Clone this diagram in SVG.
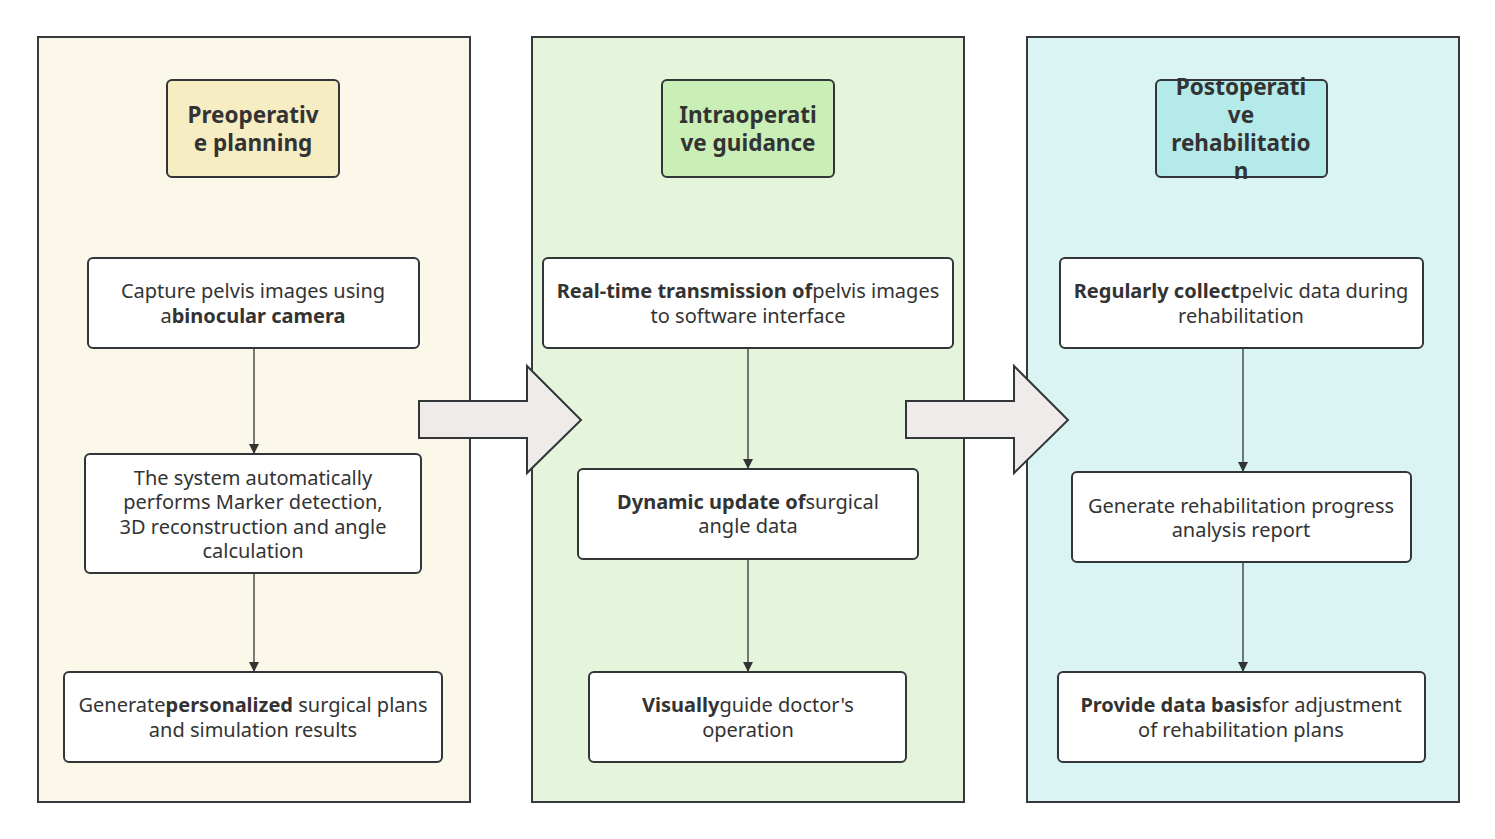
<svg xmlns="http://www.w3.org/2000/svg" width="1495" height="839" viewBox="0 0 1495 839">
<style>
.panel{stroke:#363a3d;stroke-width:2}
.title{stroke:#323639;stroke-width:2}
.node{fill:#ffffff;stroke:#323639;stroke-width:2}
.t{font-family:"Noto Sans","Open Sans",sans-serif;font-size:20px;fill:#333333;text-anchor:middle}
.h{font-family:"Noto Sans","Open Sans",sans-serif;font-size:22.5px;font-weight:bold;fill:#333333;text-anchor:middle}
.b{font-weight:bold}
.conn{stroke:#333333;stroke-width:1.3;fill:none}
.big{fill:#efebeb;stroke:#323639;stroke-width:2;stroke-linejoin:miter}
</style>
<defs>
<marker id="ah" markerWidth="10" markerHeight="14" refX="9" refY="5" orient="auto" markerUnits="userSpaceOnUse">
<path d="M0,0 L10,5 L0,10 Z" fill="#333333"/>
</marker>
</defs>
<rect width="1495" height="839" fill="#ffffff"/>
<g id="panel-pre">
<rect class="panel" x="38" y="37" width="432" height="765" fill="#fbf8e9"/>
</g>
<g id="panel-intra">
<rect class="panel" x="532" y="37" width="432" height="765" fill="#e4f5dc"/>
</g>
<g id="panel-post">
<rect class="panel" x="1027" y="37" width="432" height="765" fill="#daf4f4"/>
</g>
<g id="title-pre">
<rect class="title" x="167" y="80" width="172" height="97" rx="5" fill="#f7edc2"/>
<text class="h" x="253" y="123">Preoperativ</text>
<text class="h" x="253" y="151">e planning</text>
</g>
<g id="title-intra">
<rect class="title" x="662" y="80" width="172" height="97" rx="5" fill="#c9eeb6"/>
<text class="h" x="748" y="123">Intraoperati</text>
<text class="h" x="748" y="151">ve guidance</text>
</g>
<g id="title-post">
<rect class="title" x="1156" y="80" width="171" height="97" rx="5" fill="#b5eaea"/>
<text class="h" x="1241" y="95">Postoperati</text>
<text class="h" x="1241" y="123">ve</text>
<text class="h" x="1241" y="151">rehabilitatio</text>
<text class="h" x="1241" y="179">n</text>
</g>
<g id="n1a">
<rect class="node" x="88" y="258" width="331" height="90" rx="5"/>
<text class="t" x="253" y="298">Capture pelvis images using</text>
<text class="t" x="253" y="323">a<tspan class="b">binocular camera</tspan></text>
</g>
<g id="n1b">
<rect class="node" x="85" y="454" width="336" height="119" rx="5"/>
<text class="t" x="253" y="485">The system automatically</text>
<text class="t" x="253" y="509">performs Marker detection,</text>
<text class="t" x="253" y="534">3D reconstruction and angle</text>
<text class="t" x="253" y="558">calculation</text>
</g>
<g id="n1c">
<rect class="node" x="64" y="672" width="378" height="90" rx="5"/>
<text class="t" x="253" y="712">Generate<tspan class="b">personalized</tspan> surgical plans</text>
<text class="t" x="253" y="737">and simulation results</text>
</g>
<g id="n2a">
<rect class="node" x="543" y="258" width="410" height="90" rx="5"/>
<text class="t" x="748" y="298"><tspan class="b">Real-time transmission of</tspan>pelvis images</text>
<text class="t" x="748" y="323">to software interface</text>
</g>
<g id="n2b">
<rect class="node" x="578" y="469" width="340" height="90" rx="5"/>
<text class="t" x="748" y="509"><tspan class="b">Dynamic update of</tspan>surgical</text>
<text class="t" x="748" y="533">angle data</text>
</g>
<g id="n2c">
<rect class="node" x="589" y="672" width="317" height="90" rx="5"/>
<text class="t" x="748" y="712"><tspan class="b">Visually</tspan>guide doctor's</text>
<text class="t" x="748" y="737">operation</text>
</g>
<g id="n3a">
<rect class="node" x="1060" y="258" width="363" height="90" rx="5"/>
<text class="t" x="1241" y="298"><tspan class="b">Regularly collect</tspan>pelvic data during</text>
<text class="t" x="1241" y="323">rehabilitation</text>
</g>
<g id="n3b">
<rect class="node" x="1072" y="472" width="339" height="90" rx="5"/>
<text class="t" x="1241" y="513">Generate rehabilitation progress</text>
<text class="t" x="1241" y="537">analysis report</text>
</g>
<g id="n3c">
<rect class="node" x="1058" y="672" width="367" height="90" rx="5"/>
<text class="t" x="1241" y="712"><tspan class="b">Provide data basis</tspan>for adjustment</text>
<text class="t" x="1241" y="737">of rehabilitation plans</text>
</g>
<g id="connectors">
<line class="conn" x1="254" y1="349" x2="254" y2="453" marker-end="url(#ah)"/>
<line class="conn" x1="254" y1="574" x2="254" y2="671" marker-end="url(#ah)"/>
<line class="conn" x1="748" y1="349" x2="748" y2="468" marker-end="url(#ah)"/>
<line class="conn" x1="748" y1="560" x2="748" y2="671" marker-end="url(#ah)"/>
<line class="conn" x1="1243" y1="349" x2="1243" y2="471" marker-end="url(#ah)"/>
<line class="conn" x1="1243" y1="563" x2="1243" y2="671" marker-end="url(#ah)"/>
</g>
<g id="arrow-1">
<path class="big" d="M419,401 L527,401 L527,366 L581,420 L527,473 L527,438 L419,438 Z"/>
</g>
<g id="arrow-2">
<path class="big" d="M906,401 L1014,401 L1014,366 L1068,420 L1014,473 L1014,438 L906,438 Z"/>
</g>
</svg>
